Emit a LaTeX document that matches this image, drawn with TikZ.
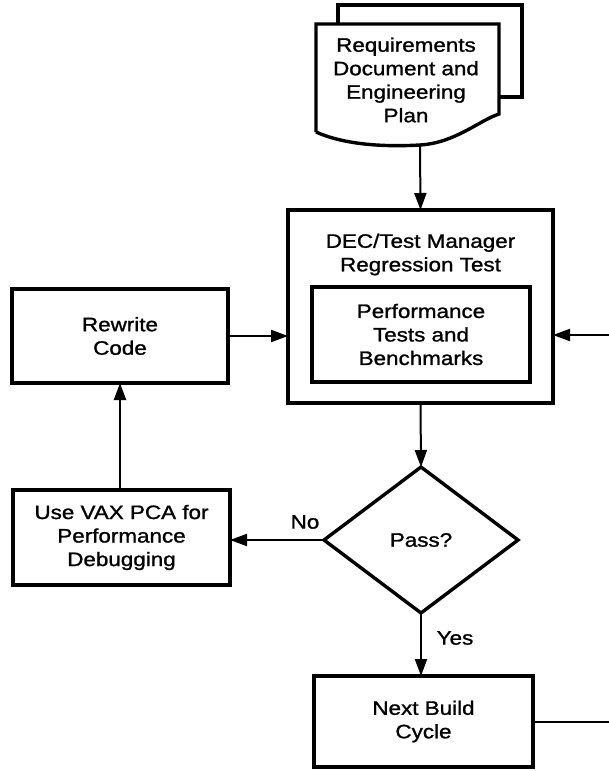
\documentclass[tikz,border=0pt]{standalone}
\usepackage{fontspec}
\setmainfont[FakeStretch=1.15,FakeBold=1.2]{Liberation Sans}
\usetikzlibrary{arrows.meta,shapes.geometric}
\begin{document}
\begin{tikzpicture}[x=1pt,y=-1pt,
  every node/.style={font=\fontsize{19.5}{23.5}\selectfont, align=center, inner sep=0pt, outer sep=0pt},
  box/.style={draw, line width=3.4pt, rectangle},
  conn/.style={line width=2pt},
  arr/.style={conn, -{Triangle[length=17pt,width=12pt]}},
  lbl/.style={}]
\useasboundingbox (0,0) rectangle (609,771);
% document shape
\draw[line width=3.4pt, line join=miter] (338,24) -- (338,5) -- (522,5) -- (522,97) -- (499,97);
\draw[line width=3.4pt, line join=miter, fill=white] (316,132) -- (316,24) -- (499,24) -- (499,114)
   .. controls (480,120) and (455,143) .. (420,145)
   .. controls (385,147) and (345,145) .. (316,132);
\node (doc) at (406,80) {Requirements\\Document and\\Engineering\\Plan};
\coordinate (docb) at (420,145);
% main box
\node[box, minimum width=265pt, minimum height=193pt] (main) at (420.5,306.5) {};
\node (maintitle) at (420.5,254.5) {DEC/Test Manager\\Regression Test};
\node[box, minimum width=218pt, minimum height=95pt] (perf) at (421,334.5) {Performance\\Tests and\\Benchmarks};
% left boxes
\node[box, minimum width=216pt, minimum height=94pt] (rewrite) at (120,336) {Rewrite\\Code};
\node[box, minimum width=217pt, minimum height=95pt] (vax) at (121.5,537.5) {Use VAX PCA for\\Performance\\Debugging};
% decision
\node[draw, line width=3.4pt, diamond, aspect=1.33, minimum width=194pt, minimum height=146pt] (pass) at (421,540) {Pass?};
% next build
\node[box, minimum width=219pt, minimum height=91pt] (next) at (423.5,721.5) {Next Build\\Cycle};
% free ends at the right edge
\coordinate (rin) at (609,335);
\coordinate (rout) at (609,722);
% connectors
\draw[arr] (docb) -- (main.north);
\draw[arr] (main.south) -- (pass.north);
\draw[arr] (pass.west) -- (pass.west -| vax.east);
\draw[arr] (vax.north -| rewrite.south) -- (rewrite.south);
\draw[arr] (rewrite.east) -- (rewrite.east -| main.west);
\draw[arr] (rin) -- (rin -| main.east);
\draw[arr] (pass.south) -- (pass.south |- next.north);
\draw[conn] (next.east |- rout) -- (rout);
% labels
\node[lbl] (no) at (305,522) {No};
\node[lbl] (yes) at (455,638) {Yes};
\end{tikzpicture}
\end{document}
